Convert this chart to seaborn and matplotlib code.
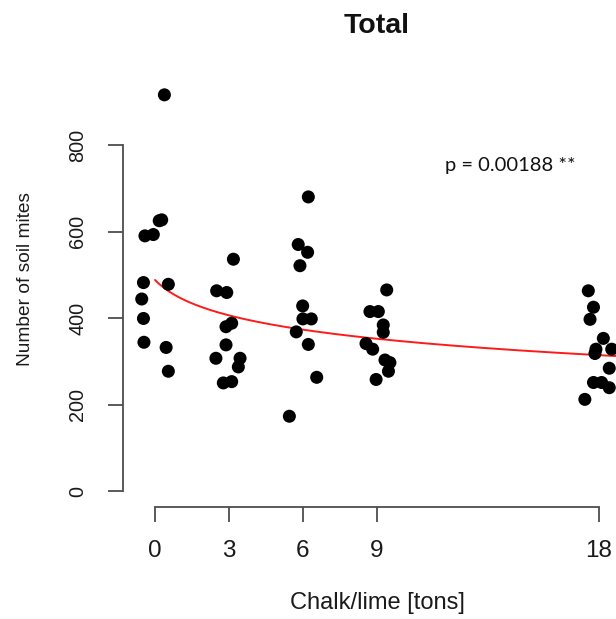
import numpy as np
import pandas as pd
import matplotlib
matplotlib.use("Agg")
import matplotlib.pyplot as plt
import seaborn as sns

# Soil mite counts per plot, x positions jittered around the chalk/lime dose
x_pos = [0.38, 0.17, 0.27, -0.41, -0.07, -0.47, 0.54, -0.54, -0.47, -0.45, 0.45, 0.54,
         3.18, 2.50, 2.91, 2.88, 3.11, 2.88, 2.47, 3.45, 3.38, 2.77, 3.11,
         6.22, 5.81, 6.19, 5.88, 5.99, 6.00, 6.34, 5.73, 6.22, 6.56, 5.45,
         9.40, 8.72, 9.06, 9.26, 9.26, 8.56, 8.83, 9.33, 9.53, 9.47, 8.97,
         17.58, 17.79, 17.65, 18.19, 18.53, 17.89, 17.85, 18.43, 17.79, 18.12, 18.43, 17.44]
mites = [916, 625, 627, 590, 593, 482, 478, 444, 399, 344, 332, 277,
         536, 463, 459, 380, 388, 338, 307, 307, 287, 250, 253,
         680, 570, 552, 521, 428, 398, 398, 368, 339, 263, 173,
         465, 415, 415, 384, 367, 341, 328, 303, 297, 277, 258,
         463, 425, 397, 353, 328, 328, 318, 284, 251, 251, 239, 212]

dose_ticks = [0, 3, 6, 9, 18]
count_ticks = [0, 200, 400, 600, 800]

# Logarithmic model: mites = a + b * log(dose + 1)
fit_a = 488.0
fit_b = -59.0
p_label = "p = 0.00188 **"

points = pd.DataFrame({"dose": x_pos, "mites": mites})
grid = np.linspace(0, 19.3, 200)
curve = pd.DataFrame({"dose": grid, "mites": fit_a + fit_b * np.log(grid + 1)})

sns.set_style("white")
plt.rcParams["font.family"] = ["Liberation Sans", "DejaVu Sans"]

W, H = 616, 619
fig = plt.figure(figsize=(W / 100, H / 100), dpi=100)
ax = fig.add_axes([123 / W, (H - 507) / H, (630.7 - 123) / W, 428 / H])

sns.lineplot(data=curve, x="dose", y="mites", color="#ff1a1a", linewidth=1.4, ax=ax)
sns.scatterplot(data=points, x="dose", y="mites", color="black", s=88,
                edgecolor="none", linewidth=0, ax=ax, zorder=3)

ax.set_xlim(-1.3, 19.3)
ax.set_ylim(-36.8, 952.6)

for side in ("top", "right"):
    ax.spines[side].set_visible(False)
axis_color = "#4d4d4d"
ax.spines["left"].set_bounds(0, 800)
ax.spines["bottom"].set_bounds(0, 18)
for side in ("left", "bottom"):
    ax.spines[side].set_color(axis_color)
    ax.spines[side].set_linewidth(1.3)

ax.set_xticks(dose_ticks)
ax.set_xticklabels([str(t) for t in dose_ticks], fontsize=17.5, color="#1a1a1a")
ax.set_yticks(count_ticks)
ax.set_yticklabels([str(t) for t in count_ticks], fontsize=14.3, color="#1a1a1a",
                   rotation=90, va="center")
ax.tick_params(axis="x", length=10.5, width=1.3, color=axis_color, pad=13.5, bottom=True)
ax.tick_params(axis="y", length=10.8, width=1.3, color=axis_color, pad=15, left=True)

ax.set_xlabel("")
ax.set_ylabel("")
fig.text(377 / W, 1 - 603 / H, "Chalk/lime [tons]", ha="center", va="center",
         fontsize=17, color="#1a1a1a")
fig.text(26 / W, 1 - 279 / H, "Number of soil mites", ha="center", va="center",
         rotation=90, fontsize=13.8, color="#1a1a1a")
fig.text(377 / W, 1 - 26 / H, "Total", ha="center", va="center",
         fontsize=20.5, fontweight="bold", color="#111111")

ax.text(14.4, 741, p_label, ha="center", va="baseline", fontsize=14.5,
        family=["Lato", "DejaVu Sans"], color="#111111")

fig.savefig("out.png", dpi=100)
